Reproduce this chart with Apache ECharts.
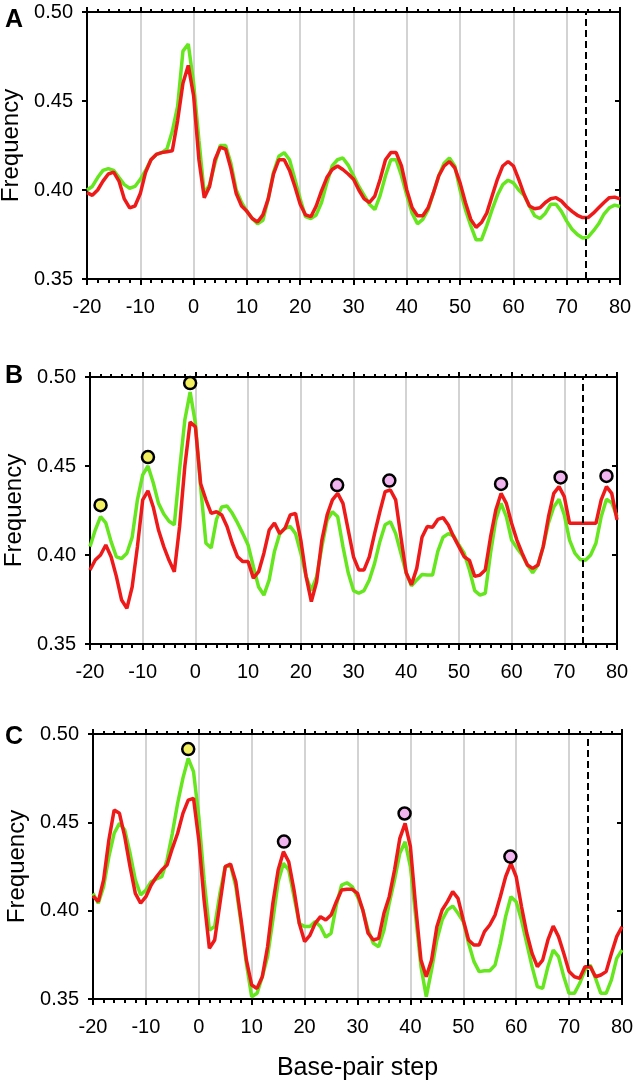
<!DOCTYPE html>
<html>
<head>
<meta charset="utf-8">
<script src="https://cdn.jsdelivr.net/npm/echarts@6/dist/echarts.min.js"></script>
<style>
html,body{margin:0;padding:0;background:#fff;}
#chart{width:633px;height:1085px;}
</style>
</head>
<body>
<div id="chart"></div>
<script>
// Base-pair step positions
var steps = [];
for (var s = -20; s <= 80; s++) steps.push(s);

var xTicks = [-20, -10, 0, 10, 20, 30, 40, 50, 60, 70, 80];
var yTicks = [0.35, 0.40, 0.45, 0.50];
var panelLabels = ['A', 'B', 'C'];
var dashedStep = 73.5;

// Panel A
var aGreen = [0.400,0.402,0.407,0.411,0.412,0.411,0.407,0.403,0.401,0.402,0.406,0.411,0.417,0.420,0.421,0.423,0.433,0.447,0.478,0.482,
0.460,0.428,0.398,0.403,0.415,0.425,0.425,0.415,0.400,0.393,0.388,0.384,0.381,0.383,0.395,0.410,0.419,0.421,0.417,0.406,
0.395,0.385,0.384,0.386,0.393,0.404,0.4135,0.417,0.418,0.414,0.408,0.402,0.397,0.392,0.389,0.397,0.408,0.417,0.417,0.408,
0.397,0.387,0.381,0.3835,0.389,0.3985,0.408,0.415,0.418,0.4135,0.400,0.389,0.380,0.372,0.372,0.380,0.389,0.397,0.403,0.4055,
0.404,0.400,0.397,0.391,0.3855,0.384,0.387,0.392,0.392,0.388,0.3825,0.378,0.375,0.373,0.3735,0.377,0.381,0.3865,0.390,0.3915,0.3907];
var aRed = [0.3985,0.397,0.400,0.405,0.409,0.410,0.405,0.395,0.390,0.391,0.398,0.410,0.417,0.420,0.421,0.4215,0.422,0.439,0.460,0.470,
0.453,0.417,0.3957,0.402,0.417,0.424,0.423,0.412,0.398,0.391,0.388,0.384,0.382,0.386,0.395,0.409,0.417,0.417,0.411,0.402,
0.392,0.386,0.385,0.391,0.3995,0.407,0.4115,0.4135,0.4115,0.409,0.406,0.400,0.395,0.393,0.3966,0.406,0.417,0.421,0.421,0.4135,
0.400,0.390,0.3855,0.3855,0.390,0.3985,0.408,0.4135,0.416,0.4125,0.404,0.393,0.3835,0.379,0.3817,0.387,0.3966,0.406,0.4135,0.416,
0.4135,0.406,0.3976,0.391,0.3895,0.390,0.393,0.3951,0.3957,0.3938,0.3906,0.388,0.3858,0.3845,0.3845,0.387,0.390,0.393,0.3957,0.396,0.395];

// Panel B
var bGreen = [0.4047,0.414,0.4216,0.418,0.4075,0.399,0.398,0.401,0.410,0.431,0.445,0.450,0.4406,0.429,0.423,0.419,0.417,0.448,0.476,0.4915,
0.474,0.438,0.4066,0.404,0.420,0.427,0.4275,0.4234,0.418,0.412,0.4056,0.3934,0.382,0.3775,0.386,0.402,0.412,0.415,0.416,0.412,
0.401,0.388,0.380,0.3878,0.4047,0.4197,0.4243,0.4215,0.4047,0.390,0.380,0.3785,0.380,0.386,0.3953,0.4075,0.417,0.4187,0.412,0.401,
0.390,0.3826,0.386,0.389,0.3887,0.3887,0.402,0.410,0.412,0.4107,0.4056,0.401,0.3916,0.380,0.3775,0.3785,0.401,0.4197,0.429,0.4215,
0.4084,0.404,0.400,0.3944,0.390,0.3944,0.4047,0.418,0.427,0.4313,0.4225,0.4084,0.401,0.3975,0.397,0.400,0.4066,0.4215,0.4313,0.4294,0.4215];
var bRed = [0.3916,0.3972,0.400,0.4056,0.399,0.388,0.3747,0.370,0.382,0.4047,0.431,0.436,0.427,0.414,0.4047,0.397,0.3906,0.416,0.450,0.4747,
0.472,0.440,0.431,0.4234,0.4243,0.4225,0.416,0.4066,0.399,0.3963,0.3963,0.387,0.3906,0.401,0.414,0.418,0.412,0.415,0.4225,0.4234,
0.4084,0.388,0.3738,0.385,0.4084,0.4225,0.431,0.4346,0.429,0.414,0.399,0.3916,0.3916,0.399,0.412,0.4243,0.4356,0.4365,0.431,0.410,
0.390,0.3833,0.3925,0.410,0.416,0.4156,0.420,0.421,0.4168,0.4103,0.4047,0.399,0.397,0.388,0.3887,0.3916,0.410,0.4253,0.4346,0.429,
0.4178,0.4084,0.401,0.3944,0.3925,0.3944,0.4047,0.4215,0.4346,0.4384,0.4328,0.4178,0.4178,0.4178,0.4178,0.4178,0.4178,0.431,0.4384,0.4346,0.4197];
var bYellow = [[-18,0.428],[-9,0.455],[-1,0.4966]];
var bPink = [[26.9,0.4393],[36.8,0.4418],[58.0,0.4399],[69.3,0.4436],[78.0,0.4444]];

// Panel C
var cGreen = [0.4098,0.4042,0.4136,0.4306,0.4438,0.4494,0.4457,0.4325,0.4174,0.4089,0.4117,0.4164,0.418,0.4192,0.4287,0.4438,0.4608,0.475,0.4862,0.4787,
0.4532,0.4174,0.389,0.391,0.4098,0.4249,0.4258,0.4136,0.3928,0.370,0.3513,0.3532,0.3626,0.374,0.3947,0.4164,0.4268,0.423,0.4079,0.3928,
0.391,0.391,0.3938,0.391,0.385,0.3872,0.4032,0.4145,0.4158,0.4136,0.4079,0.4004,0.389,0.3815,0.3796,0.389,0.4042,0.4174,0.4325,0.439,
0.4249,0.3966,0.3683,0.3513,0.3664,0.3834,0.3947,0.4004,0.4026,0.3985,0.3938,0.3815,0.3713,0.3655,0.366,0.366,0.3692,0.3815,0.3966,0.4079,
0.4051,0.3947,0.3815,0.3683,0.357,0.356,0.3683,0.3777,0.374,0.3626,0.3532,0.3532,0.3589,0.3664,0.3692,0.3617,0.3532,0.3532,0.3608,0.373,0.3777];
var cRed = [0.4083,0.4051,0.4174,0.44,0.457,0.4551,0.4419,0.4249,0.4098,0.4042,0.4079,0.4145,0.4192,0.423,0.4258,0.4353,0.4438,0.4551,0.4626,0.4636,
0.44,0.406,0.3787,0.3834,0.4042,0.4249,0.4264,0.4164,0.3947,0.372,0.3579,0.356,0.3626,0.3796,0.4042,0.423,0.4334,0.4277,0.4117,0.3928,
0.3825,0.386,0.3928,0.3966,0.3947,0.3975,0.4051,0.4117,0.4121,0.4121,0.4098,0.4004,0.3872,0.3834,0.3843,0.3985,0.4079,0.423,0.4409,0.4494,
0.4362,0.4023,0.372,0.3626,0.372,0.3909,0.4004,0.4051,0.4108,0.407,0.3947,0.3834,0.3806,0.3806,0.3881,0.3919,0.3975,0.4079,0.4192,0.4268,
0.4192,0.4023,0.3872,0.3758,0.3683,0.372,0.3834,0.3913,0.3853,0.3758,0.3655,0.3626,0.3617,0.3683,0.3683,0.3626,0.3636,0.3655,0.3758,0.3853,0.3909];
var cYellow = [[-2,0.4915]];
var cPink = [[16.1,0.4391],[38.9,0.455],[58.9,0.4306]];

var GREEN = '#66e61e', RED = '#ee1a1a', YELLOW = '#f2f060', PINK = '#f0b4ee';
var FONT = 'Liberation Sans';

var panels = [
  {green: aGreen, red: aRed, yellow: [], pink: [], grid: {left: 87, right: 13, top: 12, height: 267}, labelTop: 3},
  {green: bGreen, red: bRed, yellow: bYellow, pink: bPink, grid: {left: 90, right: 16, top: 377, height: 267}, labelTop: 359},
  {green: cGreen, red: cRed, yellow: cYellow, pink: cPink, grid: {left: 93, right: 11, top: 734, height: 265}, labelTop: 720}
];

var grids = [], xAxes = [], yAxes = [], series = [], titles = [];
var axisLineStyle = {color: '#000', width: 2};

panels.forEach(function (p, i) {
  var g = p.grid;
  g.containLabel = false;
  g.outerBoundsMode = 'none';
  grids.push(g);
  titles.push({text: panelLabels[i], left: 0, top: p.labelTop,
    textStyle: {fontFamily: FONT, fontSize: 25, fontWeight: 'bold', color: '#000'}});
  var xmin = xTicks[0], xmax = xTicks[xTicks.length - 1];
  xAxes.push({
    type: 'value', gridIndex: i, position: 'bottom', min: xmin, max: xmax, interval: 10,
    axisLine: {show: true, onZero: false, lineStyle: axisLineStyle},
    axisTick: {show: true, length: 6, lineStyle: {color: '#000', width: 2}},
    minorTick: {show: true, splitNumber: 5, length: 4, lineStyle: {color: '#000', width: 2}},
    splitLine: {show: true, lineStyle: {color: '#c4c4c4', width: 1.5}},
    axisLabel: {show: true, margin: 18, fontFamily: FONT, fontSize: 20, color: '#000'},
    name: i === 2 ? 'Base-pair step' : '', nameLocation: 'middle', nameGap: 57,
    nameTextStyle: {fontFamily: FONT, fontSize: 25, color: '#000'}
  });
  xAxes.push({
    type: 'value', gridIndex: i, position: 'top', min: xmin, max: xmax, interval: 10,
    axisLine: {show: true, onZero: false, lineStyle: axisLineStyle},
    axisTick: {show: true, length: 5, lineStyle: {color: '#000', width: 2}},
    minorTick: {show: true, splitNumber: 5, length: 3, lineStyle: {color: '#000', width: 2}},
    splitLine: {show: false}, axisLabel: {show: false}
  });
  yAxes.push({
    type: 'value', gridIndex: i, position: 'left', min: yTicks[0], max: yTicks[yTicks.length - 1], interval: 0.05,
    axisLine: {show: true, onZero: false, lineStyle: axisLineStyle},
    axisTick: {show: true, length: 5, lineStyle: {color: '#000', width: 2}},
    splitLine: {show: false},
    axisLabel: {show: true, margin: 14, fontFamily: FONT, fontSize: 20, color: '#000',
      formatter: function (v) { return v.toFixed(2); }},
    name: 'Frequency', nameLocation: 'middle', nameRotate: 90, nameGap: 62,
    nameTextStyle: {fontFamily: FONT, fontSize: 24, color: '#000'}
  });
  yAxes.push({
    type: 'value', gridIndex: i, position: 'right', min: yTicks[0], max: yTicks[yTicks.length - 1], interval: 0.05,
    axisLine: {show: true, onZero: false, lineStyle: axisLineStyle},
    axisTick: {show: true, inside: true, length: 5, lineStyle: {color: '#000', width: 2}},
    splitLine: {show: false}, axisLabel: {show: false}
  });
  var xi = i * 2, yi = i * 2;
  series.push({
    type: 'line', xAxisIndex: xi, yAxisIndex: yi, showSymbol: false, symbol: 'none', z: 3,
    lineStyle: {color: GREEN, width: 3.5}, itemStyle: {color: GREEN},
    data: steps.map(function (x, k) { return [x, p.green[k]]; })
  });
  series.push({
    type: 'line', xAxisIndex: xi, yAxisIndex: yi, showSymbol: false, symbol: 'none', z: 4,
    lineStyle: {color: RED, width: 3.5}, itemStyle: {color: RED},
    data: steps.map(function (x, k) { return [x, p.red[k]]; }),
    markLine: {silent: true, symbol: 'none', label: {show: false},
      lineStyle: {color: '#000', width: 2, type: [7, 4]},
      data: [{xAxis: dashedStep}]}
  });
  [[p.yellow, YELLOW], [p.pink, PINK]].forEach(function (m) {
    if (!m[0].length) return;
    series.push({
      type: 'scatter', xAxisIndex: xi, yAxisIndex: yi, symbol: 'circle', symbolSize: 12, z: 6,
      itemStyle: {color: m[1], borderColor: '#000', borderWidth: 2.5, opacity: 1},
      data: m[0]
    });
  });
});

var chart = echarts.init(document.getElementById('chart'), null, {renderer: 'canvas'});
chart.setOption({
  animation: false,
  backgroundColor: '#fff',
  title: titles,
  grid: grids,
  xAxis: xAxes,
  yAxis: yAxes,
  series: series
});
</script>
</body>
</html>
